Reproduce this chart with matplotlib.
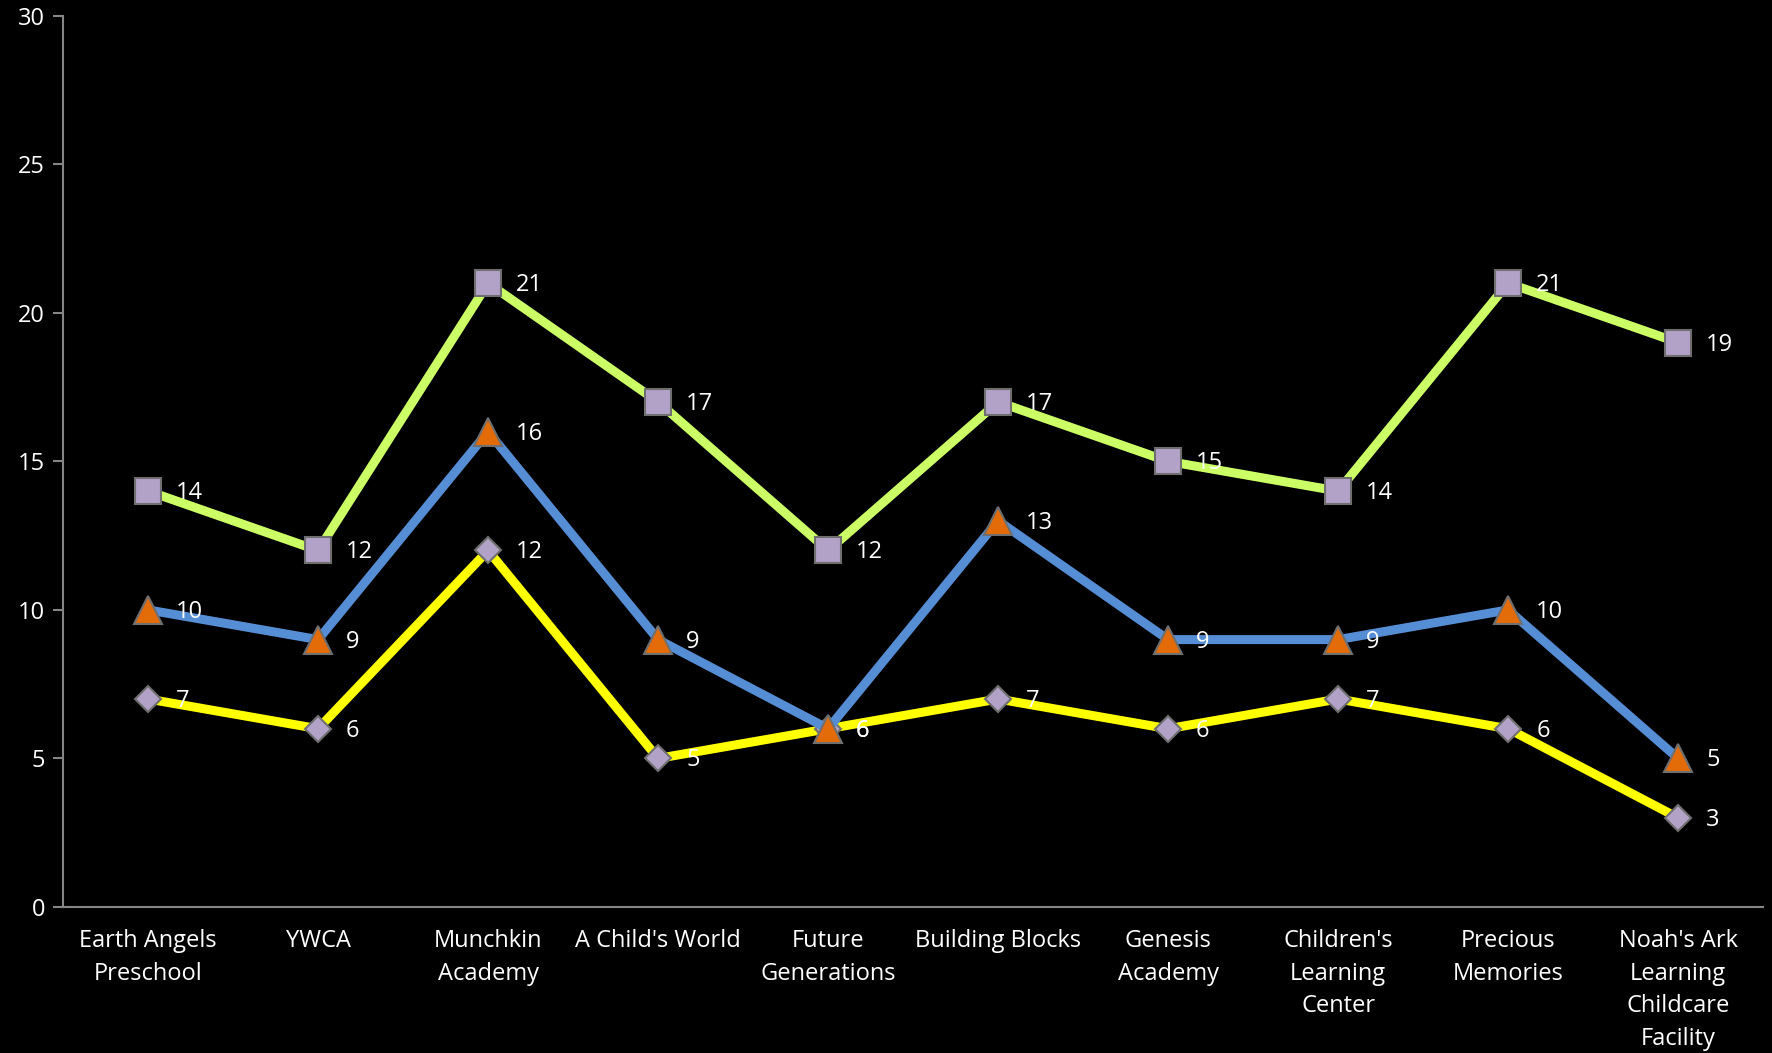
import matplotlib.pyplot as plt

plt.rcParams["font.family"] = ["Open Sans", "DejaVu Sans"]

categories = [
    "Earth Angels\nPreschool", "YWCA", "Munchkin\nAcademy", "A Child's World",
    "Future\nGenerations", "Building Blocks", "Genesis\nAcademy",
    "Children's\nLearning\nCenter", "Precious\nMemories",
    "Noah's Ark\nLearning\nChildcare\nFacility",
]
top_series = [14, 12, 21, 17, 12, 17, 15, 14, 21, 19]
mid_series = [10, 9, 16, 9, 6, 13, 9, 9, 10, 5]
low_series = [7, 6, 12, 5, 6, 7, 6, 7, 6, 3]

GRID = "#868686"
x = list(range(len(categories)))

fig = plt.figure(figsize=(17.72, 10.53), dpi=100)
fig.patch.set_facecolor("black")
ax = fig.add_axes([0.0356, 0.1387, 0.9594, 0.8463])
ax.set_facecolor("black")

ax.plot(x, low_series, color="#FFFF00", lw=6.5, marker="D", ms=13,
        mfc="#B3A2C7", mec="#6F6F6F", mew=1.5, zorder=3)
ax.plot(x, mid_series, color="#558ED5", lw=6.5, marker="^", ms=20,
        mfc="#E36C09", mec="#6F6F6F", mew=1.5, zorder=4)
ax.plot(x, top_series, color="#CCFF66", lw=6.5, marker="s", ms=19,
        mfc="#B3A2C7", mec="#6F6F6F", mew=1.5, zorder=5)

for series in (low_series, mid_series, top_series):
    for xi, v in zip(x, series):
        ax.annotate(str(v), (xi, v), xytext=(28, -2), textcoords="offset pixels",
                    color="white", fontsize=17, ha="left", va="center", zorder=6)

ax.set_xlim(-0.5, len(categories) - 0.5)
ax.set_ylim(0, 30)
ax.set_yticks(range(0, 31, 5))
ax.set_xticks(x)
ax.set_xticklabels(categories, linespacing=1.47)
ax.tick_params(axis="y", colors=GRID, labelcolor="white", labelsize=17,
               length=7, width=1.5, direction="out", pad=6)
ax.tick_params(axis="x", length=0, labelcolor="white", labelsize=17, pad=16)
for s in ("top", "right"):
    ax.spines[s].set_visible(False)
for s in ("left", "bottom"):
    ax.spines[s].set_color(GRID)
    ax.spines[s].set_linewidth(1.5)

fig.savefig("out.png", dpi=100, facecolor="black")
